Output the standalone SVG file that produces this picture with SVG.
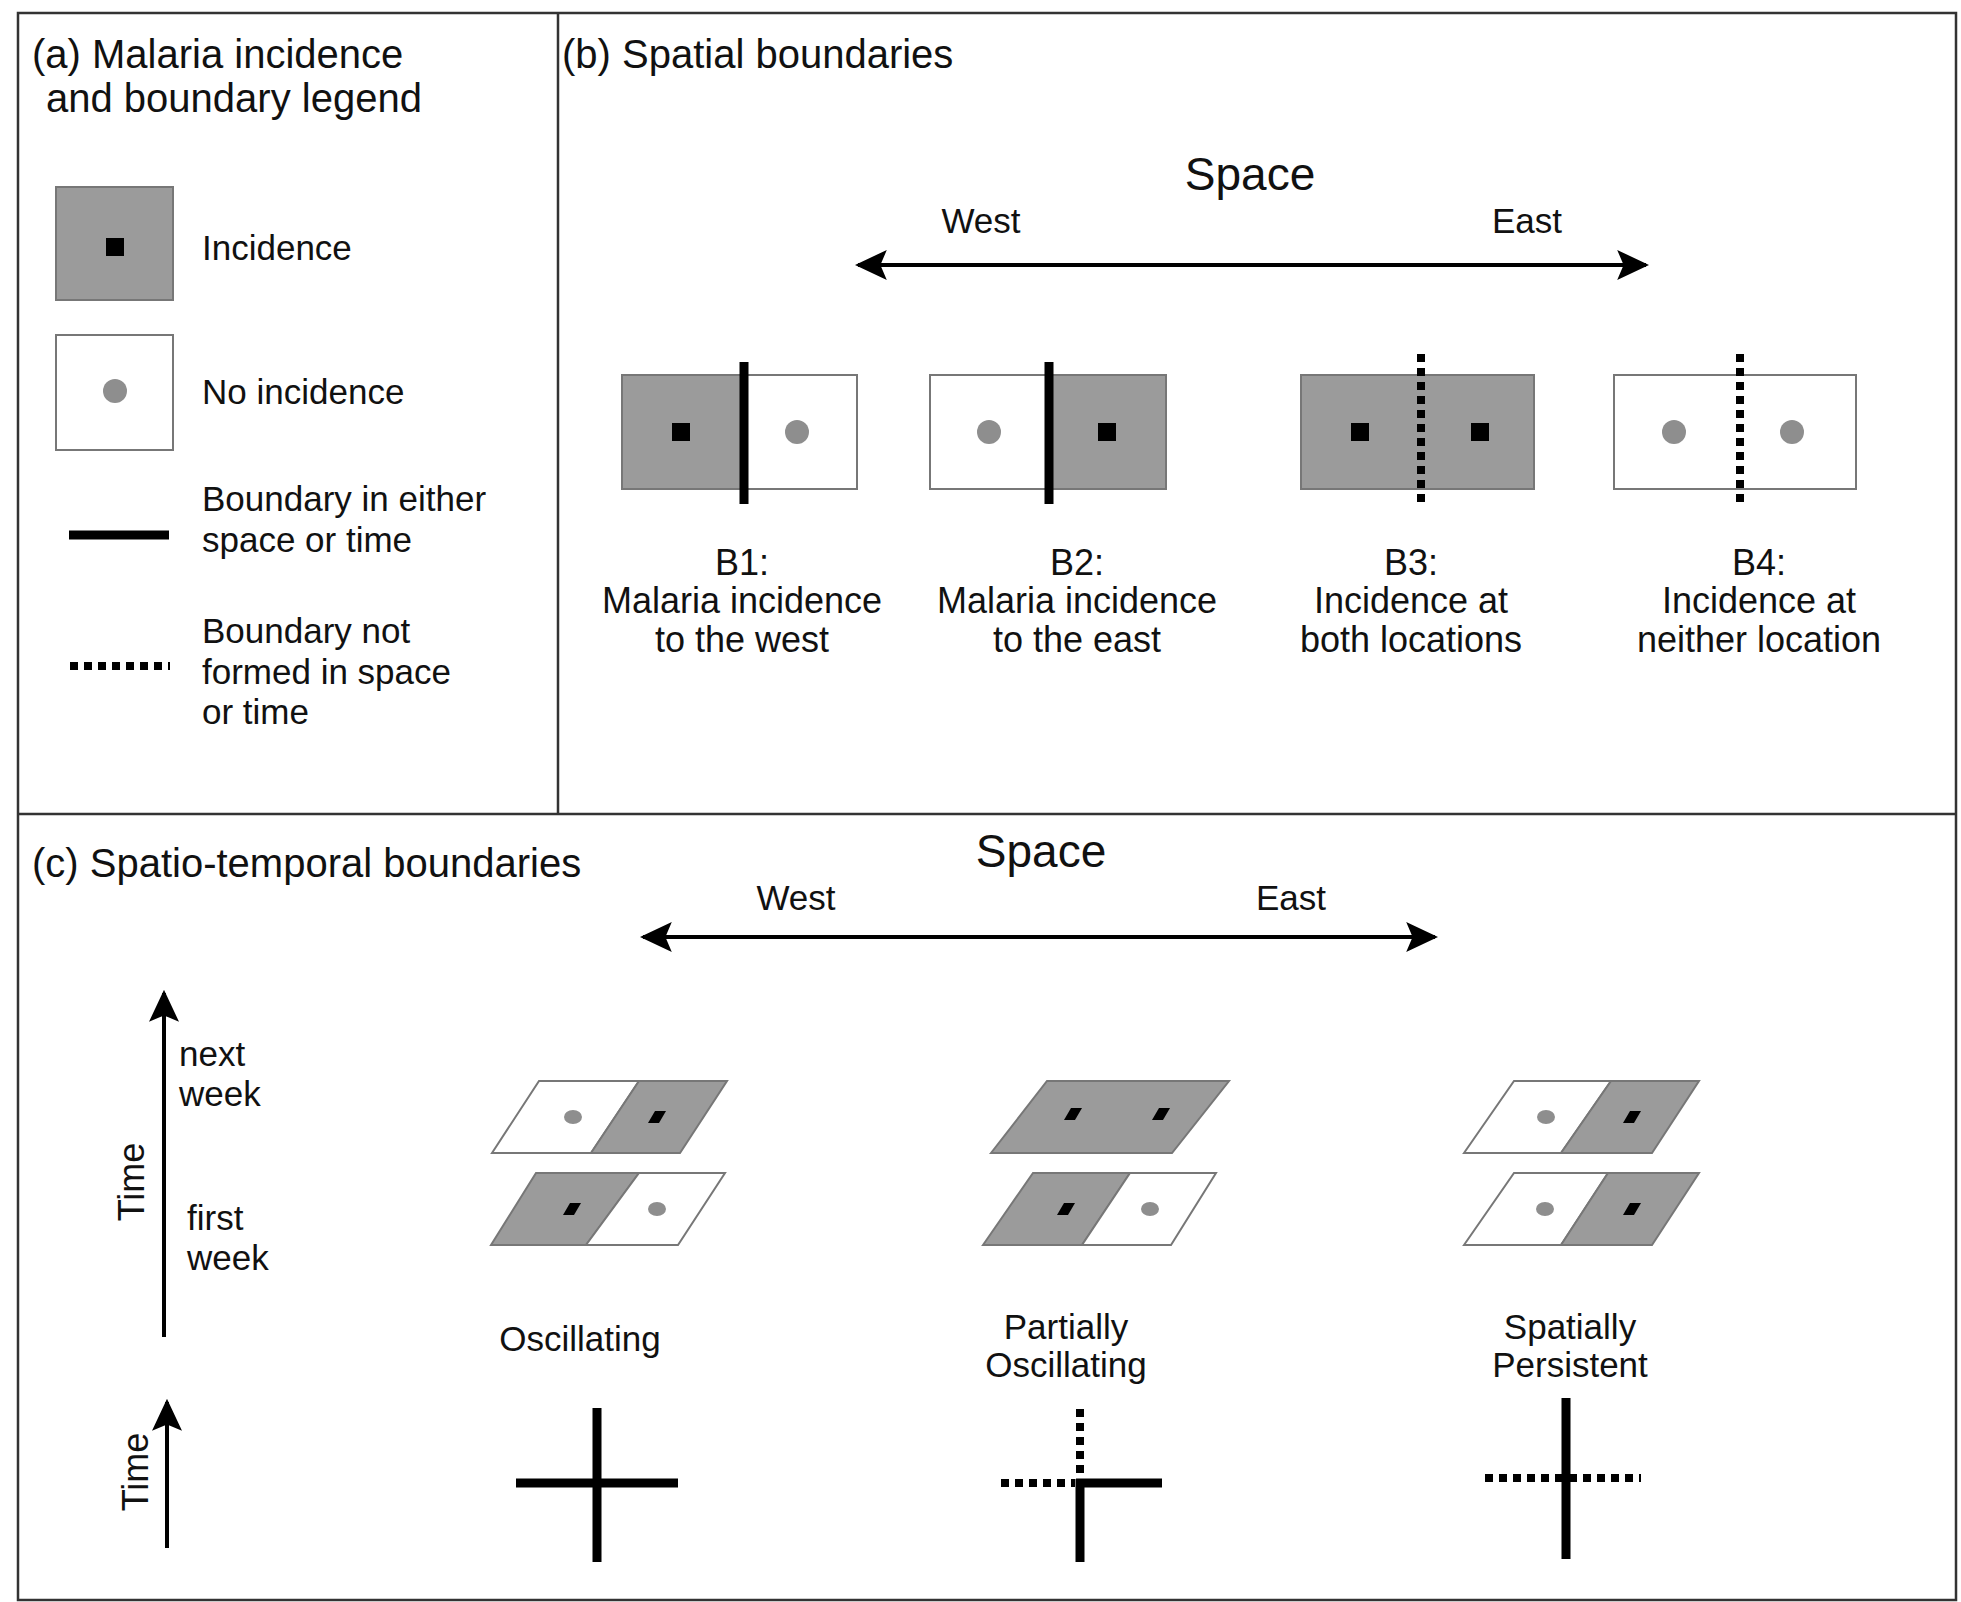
<svg xmlns="http://www.w3.org/2000/svg" width="1961" height="1602" viewBox="0 0 1961 1602">
<style>
text{font-family:"Liberation Sans",Arial,sans-serif;fill:#111}
.t{font-size:40px}.l{font-size:35px}.m{font-size:36px}.s{font-size:46px}.c{text-anchor:middle}
.g{fill:#9b9b9b;stroke:#777;stroke-width:2}.w{fill:#fff;stroke:#777;stroke-width:2}
.dot{fill:#8e8e8e}.sq{fill:#000}
.sol{stroke:#000;stroke-width:9;fill:none}.dsh{stroke:#000;stroke-width:8;stroke-dasharray:8 6;fill:none}
.ar{stroke:#000;stroke-width:4;fill:none}
</style>
<defs>
<marker id="ah" markerWidth="8" markerHeight="7.5" refX="9" refY="5" orient="auto-start-reverse" markerUnits="strokeWidth" viewBox="0 0 10 10" preserveAspectRatio="none"><path d="M0,0 L10,5 L0,10 L2,5 z" fill="#000"/></marker>
</defs>
<rect x="0" y="0" width="1961" height="1602" fill="#fff"/>
<g id="frame" fill="none" stroke="#333" stroke-width="2.5">
<rect x="18" y="13" width="1938" height="1587"/>
<line x1="558" y1="13" x2="558" y2="814"/>
<line x1="18" y1="814" x2="1956" y2="814"/>
</g>
<g id="panel-a">
<text class="t" x="32" y="68">(a) Malaria incidence</text>
<text class="t" x="46" y="112">and boundary legend</text>
<g id="leg-inc"><rect class="g" x="56" y="187" width="117" height="113"/><rect class="sq" x="106" y="238" width="18" height="18"/><text class="l" x="202" y="260">Incidence</text></g>
<g id="leg-no"><rect class="w" x="56" y="335" width="117" height="115"/><circle class="dot" cx="115" cy="391" r="12"/><text class="l" x="202" y="404">No incidence</text></g>
<g id="leg-sol"><line class="sol" x1="69" y1="535" x2="169" y2="535"/><text class="l" x="202" y="511">Boundary in either</text><text class="l" x="202" y="552">space or time</text></g>
<g id="leg-dsh"><line class="dsh" x1="70" y1="666" x2="170" y2="666"/><text class="l" x="202" y="643">Boundary not</text><text class="l" x="202" y="684">formed in space</text><text class="l" x="202" y="724">or time</text></g>
</g>
<g id="panel-b">
<text class="t" x="562" y="68">(b) Spatial boundaries</text>
<text class="s c" x="1250" y="190">Space</text>
<text class="l c" x="981" y="233">West</text>
<text class="l c" x="1527" y="233">East</text>
<g id="b1"><rect class="g" x="622" y="375" width="122" height="114"/><rect class="w" x="744" y="375" width="113" height="114"/><rect class="sq" x="672" y="423" width="18" height="18"/><circle class="dot" cx="797" cy="432" r="12"/><line class="sol" x1="744" y1="362" x2="744" y2="504"/>
<text class="m c" x="742" y="575">B1:</text><text class="m c" x="742" y="613">Malaria incidence</text><text class="m c" x="742" y="652">to the west</text></g>
<g id="b2"><rect class="w" x="930" y="375" width="119" height="114"/><rect class="g" x="1049" y="375" width="117" height="114"/><circle class="dot" cx="989" cy="432" r="12"/><rect class="sq" x="1098" y="423" width="18" height="18"/><line class="sol" x1="1049" y1="362" x2="1049" y2="504"/>
<text class="m c" x="1077" y="575">B2:</text><text class="m c" x="1077" y="613">Malaria incidence</text><text class="m c" x="1077" y="652">to the east</text></g>
<g id="b3"><rect class="g" x="1301" y="375" width="233" height="114"/><rect class="sq" x="1351" y="423" width="18" height="18"/><rect class="sq" x="1471" y="423" width="18" height="18"/><line class="dsh" x1="1421" y1="354" x2="1421" y2="505"/>
<text class="m c" x="1411" y="575">B3:</text><text class="m c" x="1411" y="613">Incidence at</text><text class="m c" x="1411" y="652">both locations</text></g>
<g id="b4"><rect class="w" x="1614" y="375" width="242" height="114"/><circle class="dot" cx="1674" cy="432" r="12"/><circle class="dot" cx="1792" cy="432" r="12"/><line class="dsh" x1="1740" y1="354" x2="1740" y2="505"/>
<text class="m c" x="1759" y="575">B4:</text><text class="m c" x="1759" y="613">Incidence at</text><text class="m c" x="1759" y="652">neither location</text></g>
</g>
<g id="panel-c">
<text class="t" x="32" y="877">(c) Spatio-temporal boundaries</text>
<text class="s c" x="1041" y="867">Space</text>
<text class="l c" x="796" y="910">West</text>
<text class="l c" x="1291" y="910">East</text>
<text class="m c" transform="translate(144,1182) rotate(-90)">Time</text>
<text class="l" x="179" y="1066">next</text><text class="l" x="179" y="1106">week</text>
<text class="l" x="187" y="1230">first</text><text class="l" x="187" y="1270">week</text>
<text class="m c" transform="translate(148,1472) rotate(-90)">Time</text>
<g id="osc">
<polygon class="w" points="492,1153 539,1081 639,1081 591,1153"/><polygon class="g" points="591,1153 639,1081 727,1081 680,1153"/>
<ellipse class="dot" cx="573" cy="1117" rx="9" ry="7"/><polygon class="sq" points="648,1123 655,1111 666,1111 659,1123"/>
<polygon class="g" points="491,1245 536,1173 639,1173 586,1245"/><polygon class="w" points="586,1245 639,1173 725,1173 678,1245"/>
<polygon class="sq" points="563,1215 570,1203 581,1203 574,1215"/><ellipse class="dot" cx="657" cy="1209" rx="9" ry="7"/>
<text class="l c" x="580" y="1351">Oscillating</text>
<line class="sol" x1="597" y1="1408" x2="597" y2="1562"/><line class="sol" x1="516" y1="1483" x2="678" y2="1483"/>
</g>
<g id="partial">
<polygon class="g" points="991,1153 1047,1081 1229,1081 1172,1153"/>
<polygon class="sq" points="1064,1120 1071,1108 1082,1108 1075,1120"/><polygon class="sq" points="1152,1120 1159,1108 1170,1108 1163,1120"/>
<polygon class="g" points="983,1245 1033,1173 1130,1173 1082,1245"/><polygon class="w" points="1082,1245 1130,1173 1216,1173 1171,1245"/>
<polygon class="sq" points="1057,1215 1064,1203 1075,1203 1068,1215"/><ellipse class="dot" cx="1150" cy="1209" rx="9" ry="7"/>
<text class="l c" x="1066" y="1339">Partially</text><text class="l c" x="1066" y="1377">Oscillating</text>
<line class="dsh" x1="1080" y1="1409" x2="1080" y2="1478"/><line class="sol" x1="1080" y1="1479" x2="1080" y2="1562"/>
<line class="dsh" x1="1001" y1="1483" x2="1075" y2="1483"/><line class="sol" x1="1076" y1="1483" x2="1162" y2="1483"/>
</g>
<g id="persist">
<polygon class="w" points="1464,1153 1514,1081 1611,1081 1561,1153"/><polygon class="g" points="1561,1153 1611,1081 1699,1081 1652,1153"/>
<ellipse class="dot" cx="1546" cy="1117" rx="9" ry="7"/><polygon class="sq" points="1623,1123 1630,1111 1641,1111 1634,1123"/>
<polygon class="w" points="1464,1245 1514,1173 1608,1173 1561,1245"/><polygon class="g" points="1561,1245 1608,1173 1699,1173 1652,1245"/>
<ellipse class="dot" cx="1545" cy="1209" rx="9" ry="7"/><polygon class="sq" points="1623,1215 1630,1203 1641,1203 1634,1215"/>
<text class="l c" x="1570" y="1339">Spatially</text><text class="l c" x="1570" y="1377">Persistent</text>
<line class="dsh" x1="1485" y1="1478" x2="1641" y2="1478"/><line class="sol" x1="1566" y1="1398" x2="1566" y2="1559"/>
</g>
</g>
<g id="connectors">
<line class="ar" x1="858" y1="265" x2="1646" y2="265" marker-start="url(#ah)" marker-end="url(#ah)"/>
<line class="ar" x1="643" y1="937" x2="1435" y2="937" marker-start="url(#ah)" marker-end="url(#ah)"/>
<line class="ar" x1="164" y1="1337" x2="164" y2="993" marker-end="url(#ah)"/>
<line class="ar" x1="167" y1="1548" x2="167" y2="1402" marker-end="url(#ah)"/>
</g>
</svg>
